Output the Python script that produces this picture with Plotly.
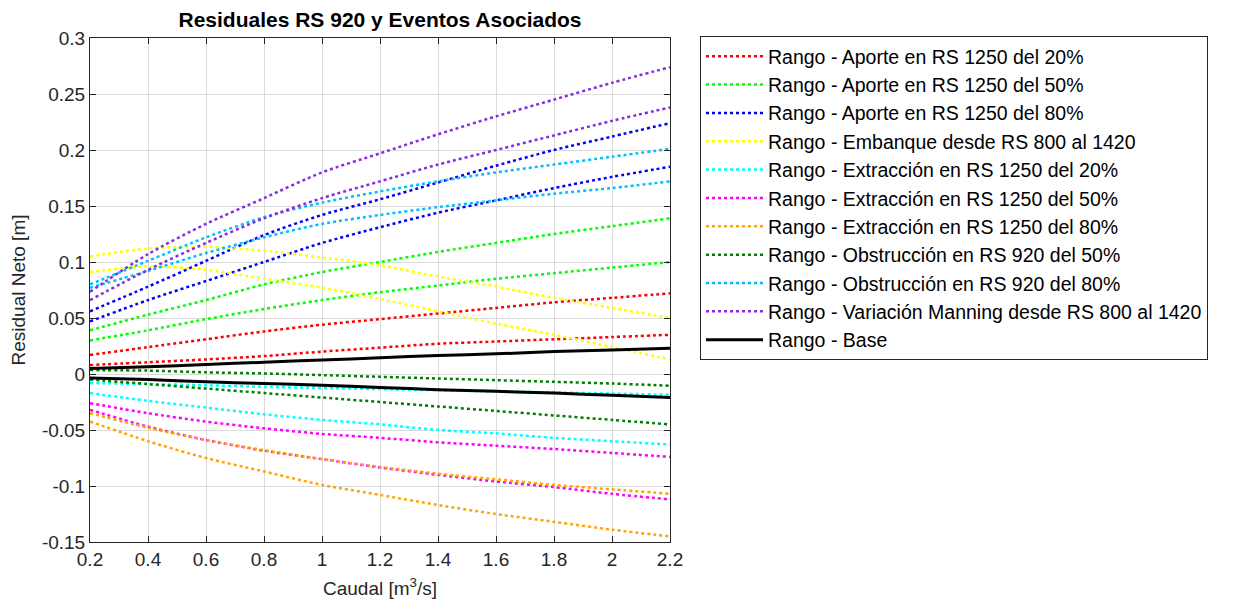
import plotly.graph_objects as go

caudal = [0.2, 0.4, 0.6, 0.8, 1.0, 1.2, 1.4, 1.6, 1.8, 2.0, 2.2]

aporte20_sup = [0.017, 0.024, 0.031, 0.038, 0.044, 0.049, 0.054, 0.059, 0.064, 0.068, 0.072]
aporte20_inf = [0.008, 0.0105, 0.013, 0.016, 0.020, 0.0235, 0.027, 0.029, 0.031, 0.033, 0.035]
aporte50_sup = [0.039, 0.053, 0.066, 0.080, 0.091, 0.100, 0.109, 0.117, 0.125, 0.132, 0.139]
aporte50_inf = [0.030, 0.039, 0.049, 0.058, 0.066, 0.073, 0.079, 0.085, 0.090, 0.095, 0.100]
aporte80_sup = [0.056, 0.078, 0.101, 0.124, 0.142, 0.156, 0.171, 0.186, 0.200, 0.212, 0.224]
aporte80_inf = [0.047, 0.066, 0.083, 0.100, 0.117, 0.131, 0.144, 0.155, 0.166, 0.176, 0.185]
embanque_sup = [0.105, 0.112, 0.1135, 0.110, 0.104, 0.097, 0.087, 0.078, 0.068, 0.059, 0.050]
embanque_inf = [0.091, 0.096, 0.093, 0.085, 0.077, 0.067, 0.056, 0.045, 0.035, 0.024, 0.013]
extr20_sup = [-0.008, -0.009, -0.010, -0.0115, -0.0125, -0.0135, -0.0145, -0.0155, -0.0165, -0.0175, -0.0185]
extr20_inf = [-0.017, -0.024, -0.030, -0.036, -0.041, -0.045, -0.050, -0.053, -0.057, -0.060, -0.063]
extr50_sup = [-0.026, -0.035, -0.0425, -0.0485, -0.0535, -0.057, -0.061, -0.064, -0.067, -0.0705, -0.074]
extr50_inf = [-0.032, -0.047, -0.059, -0.0685, -0.076, -0.0835, -0.090, -0.096, -0.101, -0.107, -0.112]
extr80_sup = [-0.035, -0.048, -0.059, -0.068, -0.076, -0.083, -0.089, -0.094, -0.099, -0.103, -0.107]
extr80_inf = [-0.0425, -0.060, -0.075, -0.087, -0.099, -0.108, -0.117, -0.125, -0.132, -0.139, -0.145]
obst50_sup = [0.0035, 0.003, 0.0015, 0.0005, -0.001, -0.0025, -0.004, -0.0055, -0.007, -0.0085, -0.0105]
obst50_inf = [-0.005, -0.009, -0.013, -0.017, -0.021, -0.025, -0.029, -0.033, -0.037, -0.041, -0.045]
obst80_sup = [0.080, 0.101, 0.122, 0.140, 0.153, 0.163, 0.172, 0.180, 0.187, 0.194, 0.201]
obst80_inf = [0.077, 0.092, 0.108, 0.122, 0.134, 0.142, 0.149, 0.155, 0.161, 0.166, 0.172]
manning_sup = [0.0735, 0.107, 0.134, 0.157, 0.180, 0.197, 0.214, 0.230, 0.245, 0.260, 0.274]
manning_inf = [0.066, 0.093, 0.117, 0.139, 0.157, 0.172, 0.187, 0.200, 0.213, 0.226, 0.238]
base_sup = [0.005, 0.0065, 0.0085, 0.0105, 0.0125, 0.0145, 0.0165, 0.018, 0.020, 0.0215, 0.023]
base_inf = [-0.0035, -0.005, -0.007, -0.0085, -0.010, -0.012, -0.014, -0.0155, -0.017, -0.019, -0.021]

nombres = [
    "Rango - Aporte en RS 1250 del 20%",
    "Rango - Aporte en RS 1250 del 50%",
    "Rango - Aporte en RS 1250 del 80%",
    "Rango - Embanque desde RS 800 al 1420",
    "Rango - Extracción en RS 1250 del 20%",
    "Rango - Extracción en RS 1250 del 50%",
    "Rango - Extracción en RS 1250 del 80%",
    "Rango - Obstrucción en RS 920 del 50%",
    "Rango - Obstrucción en RS 920 del 80%",
    "Rango - Variación Manning desde RS 800 al 1420",
    "Rango - Base",
]
colores = ["#FF0000", "#00FF00", "#0000FF", "#FFFF00", "#00FFFF", "#FF00FF",
           "#FFA500", "#008000", "#00BFFF", "#8A2BE2", "#000000"]
series = [
    (aporte20_sup, aporte20_inf), (aporte50_sup, aporte50_inf), (aporte80_sup, aporte80_inf),
    (embanque_sup, embanque_inf), (extr20_sup, extr20_inf), (extr50_sup, extr50_inf),
    (extr80_sup, extr80_inf), (obst50_sup, obst50_inf), (obst80_sup, obst80_inf),
    (manning_sup, manning_inf), (base_sup, base_inf),
]

fig = go.Figure()
for i, (nombre, color, (sup, inf)) in enumerate(zip(nombres, colores, series)):
    es_base = nombre == "Rango - Base"
    for j, vals in enumerate((sup, inf)):
        fig.add_trace(go.Scatter(
            x=caudal, y=vals, mode="lines", name=nombre,
            legendgroup=nombre, showlegend=(j == 0),
            line=dict(color=color, width=3 if es_base else 2.5,
                      dash="solid" if es_base else "dot", shape="spline", smoothing=0.8),
        ))

font_fam = "Liberation Sans, Arial, sans-serif"
axis_common = dict(
    showline=True, linecolor="#262626", linewidth=1, mirror="ticks",
    ticks="inside", ticklen=6, tickcolor="#262626",
    showgrid=True, gridcolor="#dadada", gridwidth=1, zeroline=False,
    tickfont=dict(family=font_fam, size=19, color="#262626"),
    automargin=False,
)
fig.update_xaxes(
    range=[0.2, 2.2], tickvals=[0.2, 0.4, 0.6, 0.8, 1.0, 1.2, 1.4, 1.6, 1.8, 2.0, 2.2],
    ticktext=["0.2", "0.4", "0.6", "0.8", "1", "1.2", "1.4", "1.6", "1.8", "2", "2.2"],
    title=dict(text="Caudal [m<sup>3</sup>/s]", font=dict(family=font_fam, size=19, color="#262626"), standoff=12),
    **axis_common,
)
fig.update_yaxes(
    range=[-0.15, 0.3],
    tickvals=[-0.15, -0.1, -0.05, 0, 0.05, 0.1, 0.15, 0.2, 0.25, 0.3],
    ticktext=["-0.15", "-0.1", "-0.05", "0", "0.05", "0.1", "0.15", "0.2", "0.25", "0.3"],
    title=dict(text="Residual Neto [m]", font=dict(family=font_fam, size=19, color="#262626"), standoff=14),
    **axis_common,
)
W, H = 1239, 603
fig.update_layout(
    width=W, height=H,
    margin=dict(l=82, r=577, t=30, b=69),
    paper_bgcolor="white", plot_bgcolor="white",
    title=dict(text="<b>Residuales RS 920 y Eventos Asociados</b>", x=(380 - 8) / W,
               xanchor="center", y=1 - 12 / H, yanchor="middle",
               font=dict(family=font_fam, size=21, color="#000000")),
    legend=dict(
        x=(700 - 90) / 580, xanchor="left", y=1 + 2 / 504, yanchor="top",
        bgcolor="white", bordercolor="#262626", borderwidth=1,
        font=dict(family=font_fam, size=19.5, color="#000000"),
        itemwidth=57, tracegroupgap=0, maxheight=500,
    ),
    showlegend=True,
)

fig.write_html("out.html")
